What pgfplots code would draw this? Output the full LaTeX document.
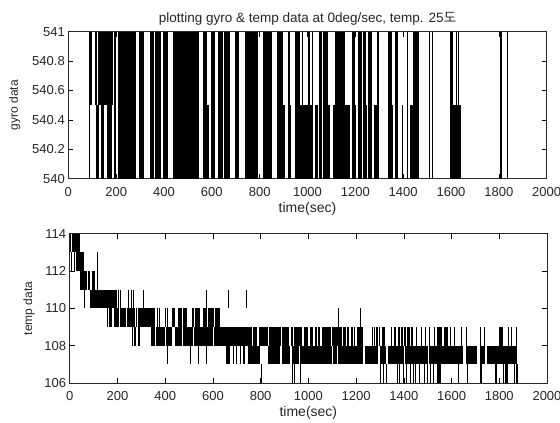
\documentclass[border=0pt]{standalone}
\usepackage{pgfplots}
\usepackage{fontspec}
\setmainfont{Liberation Sans}
\newfontfamily\kr{Noto Sans CJK KR}
\pgfplotsset{compat=1.18}
\pgfplotsset{mat/.style={
  scale only axis, axis line style={line width=0.8pt,black!85}, tick style={black,line width=0.6pt}, tick align=inside,
  major tick length=5pt, xtick pos=both, ytick pos=both,
  xmin=0,xmax=2000, xtick={0,200,...,2000},
  /pgf/number format/assume math mode=true,
  /pgf/number format/1000 sep={},
  tick label style={font=\fontsize{13}{13}\selectfont,text=black!85},
  xlabel={time(sec)},
  xlabel style={font=\fontsize{14}{14}\selectfont,text=black!85,yshift=1pt},
  ylabel style={font=\fontsize{12}{12}\selectfont,text=black!85},
  xticklabel style={yshift=-5pt},
}}
% #1 centre of the level, #2 its height in pt, #3 rows: from to
\newcommand\lev[3]{\addplot[draw=none,mark=none,forget plot,
  error bars/.cd,x dir=plus,x explicit,error mark=none,
  error bar style={draw=black,solid,line width=#2,line cap=butt}]
  table[row sep=\\,header=false,x index=0,y expr=#1,x error expr=\thisrowno{1}-\thisrowno{0}] {#3};}
\begin{document}
\begin{tikzpicture}[x=1pt,y=1pt]
\useasboundingbox (0,0) rectangle (560,423);
\begin{axis}[mat, at={(68.3pt,244.3pt)},anchor=south west,width=478.4pt,height=147pt,
  ymin=540,ymax=541,ytick={540,540.2,540.4,540.6,540.8,541},
  yticklabel style={/pgf/number format/fixed,/pgf/number format/precision=1},
  ylabel={gyro data}, ylabel style={yshift=5pt},
  title={\fontsize{13.5}{13.5}\selectfont plotting gyro \& temp data at 0deg/sec, temp. 25{\kr 도}},title style={yshift=-3pt,text=black!85}]
% full height
\lev{540.5}{147pt}{86 90\\116 119\\190 193\\197 201\\209 283\\297 315\\342 358\\364 388\\394 418\\439 546\\565 581\\597 613\\627 645\\651 676\\697 715\\739 795\\815 850\\871 896\\920 927\\948 969\\975 980\\1004 1012\\1018 1024\\1050 1060\\1066 1087\\1115 1157\\1185 1199\\1213 1227\\1234 1245\\1255 1269\\1289 1299\\1338 1352\\1366 1380\\1415 1419\\1443 1468\\1508 1511\\1520 1523\\1596 1610\\1620 1626\\1805 1812\\1833 1840\\}
% lower half
\lev{540.25}{73.5pt}{118 130\\138 149\\163 181\\575 590\\745 760\\896 905\\927 931\\948 1000\\1008 1020\\1032 1042\\1050 1060\\1087 1094\\1108 1178\\1199 1204\\1245 1250\\1280 1289\\1352 1358\\1395 1400\\1430 1443\\1596 1640\\}
% upper half
\lev{540.75}{73.5pt}{92 99\\112 121\\125 188\\1628 1634\\}
\end{axis}
\begin{axis}[mat, at={(69.7pt,40pt)},anchor=south west,width=477.3pt,height=149.3pt,
  ymin=106,ymax=114,ytick={106,108,...,114},
  ylabel={temp data}, ylabel style={yshift=3pt}]
\lev{113.5}{18.66pt}{0 6\\10 16\\20 43\\}
\lev{112.5}{18.66pt}{4 7\\16 19\\27 62\\116 118\\}
\lev{111.5}{18.66pt}{43 72\\78 84\\92 106\\116 118\\}
\lev{110.5}{18.66pt}{62 65\\85 197\\204 207\\212 215\\246 249\\258 262\\264 267\\308 311\\570 573\\664 667\\737 740\\}
\lev{109.5}{18.66pt}{155 160\\165 178\\185 207\\212 235\\240 272\\276 284\\288 357\\364 367\\373 376\\399 402\\408 411\\427 441\\454 472\\476 490\\511 520\\524 546\\560 576\\580 605\\610 630\\1125 1128\\1215 1218\\}
\lev{108.5}{18.66pt}{262 266\\270 276\\285 296\\340 357\\362 368\\372 382\\384 398\\405 430\\440 470\\474 515\\520 600\\604 762\\768 785\\795 830\\834 885\\890 920\\926 934\\940 975\\980 1000\\1007 1020\\1026 1035\\1042 1050\\1056 1095\\1100 1140\\1146 1158\\1163 1172\\1178 1185\\1192 1197\\1203 1230\\1265 1270\\1274 1280\\1285 1290\\1295 1302\\1310 1320\\1345 1352\\1358 1368\\1375 1382\\1388 1395\\1400 1410\\1415 1425\\1432 1440\\1450 1455\\1472 1476\\1490 1495\\1505 1510\\1525 1532\\1540 1560\\1570 1585\\1595 1598\\1610 1615\\1640 1644\\1660 1664\\1718 1721\\1738 1741\\1800 1815\\1835 1838\\1850 1853\\1868 1872\\}
\lev{107.5}{18.66pt}{406 409\\504 507\\539 542\\571 575\\657 671\\685 690\\695 699\\713 718\\728 734\\748 797\\832 880\\890 925\\930 960\\965 1100\\1104 1120\\1124 1230\\1236 1290\\1300 1325\\1332 1400\\1405 1500\\1505 1650\\1660 1705\\1720 1742\\1748 1876\\}
\lev{106.5}{18.66pt}{800 804\\930 934\\941 945\\965 968\\1300 1303\\1313 1316\\1324 1327\\1370 1376\\1381 1384\\1395 1398\\1410 1414\\1425 1428\\1437 1440\\1447 1450\\1462 1466\\1485 1488\\1497 1500\\1510 1513\\1522 1525\\1540 1555\\1625 1628\\1665 1668\\1720 1726\\1782 1790\\1815 1818\\1825 1835\\1860 1864\\1872 1880\\}
\end{axis}
\end{tikzpicture}
\end{document}
